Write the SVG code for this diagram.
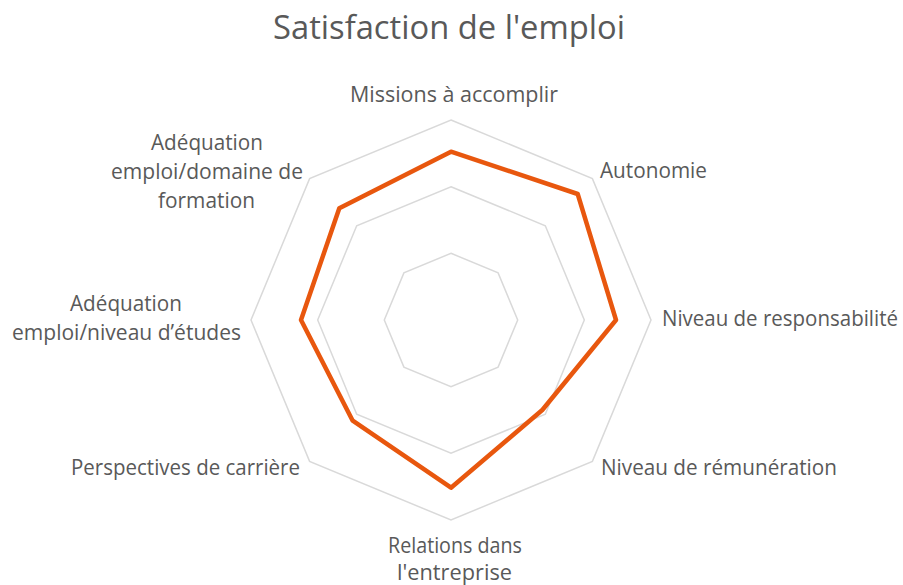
<svg xmlns="http://www.w3.org/2000/svg" width="903" height="585" viewBox="0 0 903 585">
<style>
.grid{fill:none;stroke:#D9D9D9;stroke-width:1.5;stroke-linejoin:miter}
.series{fill:none;stroke:#E8570E;stroke-width:4.5;stroke-linejoin:round}
.lbl{font-family:"Open Sans","Liberation Sans",sans-serif;font-size:21px;fill:#595959}
.title{font-family:"Open Sans","Liberation Sans",sans-serif;font-size:32px;fill:#595959}
</style>
<rect width="903" height="585" fill="#FFFFFF"/>
<text id="title" class="title" x="273" y="39" textLength="352" lengthAdjust="spacingAndGlyphs">Satisfaction de l'emploi</text>
<g id="grid">
<polygon class="grid" points="451,120 592.4,178.6 651,320 592.4,461.4 451,520 309.6,461.4 251,320 309.6,178.6"/>
<polygon class="grid" points="451,186.7 545.3,225.7 584.3,320 545.3,414.3 451,453.3 356.7,414.3 317.7,320 356.7,225.7"/>
<polygon class="grid" points="451,253.3 498.1,272.9 517.7,320 498.1,367.1 451,386.7 403.9,367.1 384.3,320 403.9,272.9"/>
</g>
<g id="series">
<polygon class="series" points="451,151.7 577.7,194 616,320 542.3,410 451,487.7 352.7,420.7 301,320 339.3,208.3"/>
</g>
<g id="label-missions"><text class="lbl" x="350" y="102" textLength="208" lengthAdjust="spacingAndGlyphs">Missions à accomplir</text></g>
<g id="label-autonomie"><text class="lbl" x="600" y="178" textLength="107" lengthAdjust="spacingAndGlyphs">Autonomie</text></g>
<g id="label-responsabilite"><text class="lbl" x="662" y="326" textLength="236" lengthAdjust="spacingAndGlyphs">Niveau de responsabilité</text></g>
<g id="label-remuneration"><text class="lbl" x="601" y="475" textLength="236" lengthAdjust="spacingAndGlyphs">Niveau de rémunération</text></g>
<g id="label-relations">
<text class="lbl" x="388" y="553" textLength="134" lengthAdjust="spacingAndGlyphs">Relations dans</text>
<text class="lbl" x="397" y="580" textLength="115" lengthAdjust="spacingAndGlyphs">l'entreprise</text>
</g>
<g id="label-perspectives"><text class="lbl" x="71" y="475" textLength="229" lengthAdjust="spacingAndGlyphs">Perspectives de carrière</text></g>
<g id="label-niveau-etudes">
<text class="lbl" x="70" y="311" textLength="112" lengthAdjust="spacingAndGlyphs">Adéquation</text>
<text class="lbl" x="12" y="340" textLength="229" lengthAdjust="spacingAndGlyphs">emploi/niveau d’études</text>
</g>
<g id="label-domaine">
<text class="lbl" x="151" y="150" textLength="112" lengthAdjust="spacingAndGlyphs">Adéquation</text>
<text class="lbl" x="111" y="179" textLength="192" lengthAdjust="spacingAndGlyphs">emploi/domaine de</text>
<text class="lbl" x="158" y="208" textLength="97" lengthAdjust="spacingAndGlyphs">formation</text>
</g>
</svg>
